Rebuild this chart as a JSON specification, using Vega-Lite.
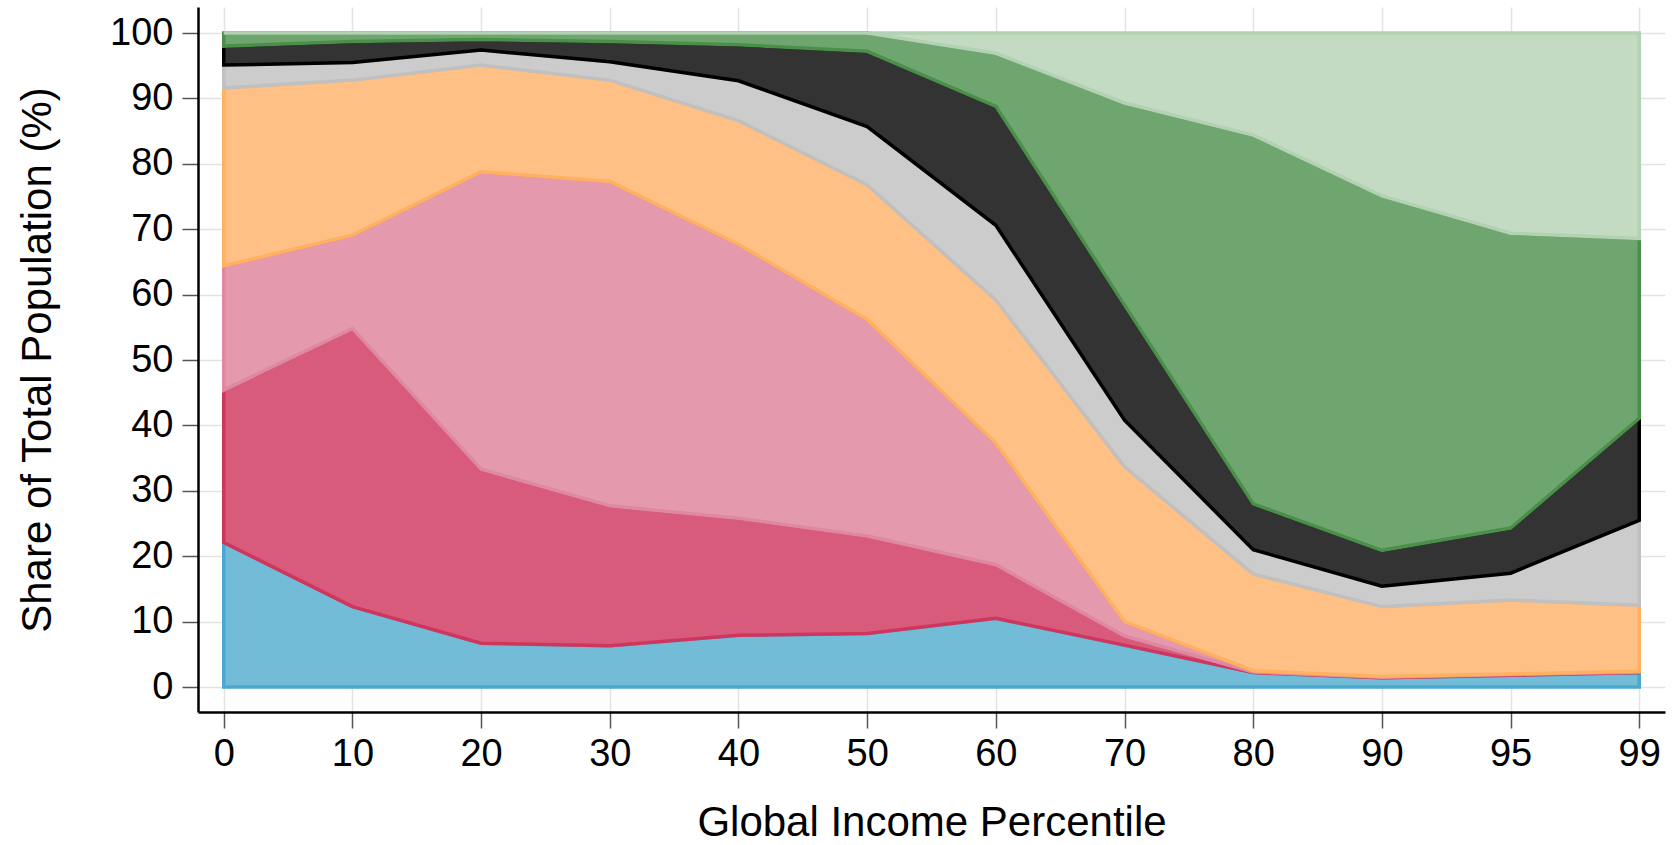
{
  "$schema": "https://vega.github.io/schema/vega-lite/v6.json",
  "width": 1467,
  "height": 705,
  "autosize": {"type": "none"},
  "padding": {"left": 198, "top": 7, "right": 13, "bottom": 133},
  "background": "white",
  "config": {
    "view": {"stroke": null},
    "font": "Liberation Sans"
  },
  "data": {
    "values": [
      {"p": 0, "g": "Group 1", "v": 22.1}, {"p": 0, "g": "Group 2", "v": 23.3}, {"p": 0, "g": "Group 3", "v": 19.0}, {"p": 0, "g": "Group 4", "v": 27.2}, {"p": 0, "g": "Group 5", "v": 3.5}, {"p": 0, "g": "Group 6", "v": 2.9}, {"p": 0, "g": "Group 7", "v": 2.0}, {"p": 0, "g": "Group 8", "v": 0},
      {"p": 10, "g": "Group 1", "v": 12.3}, {"p": 10, "g": "Group 2", "v": 42.5}, {"p": 10, "g": "Group 3", "v": 14.3}, {"p": 10, "g": "Group 4", "v": 23.7}, {"p": 10, "g": "Group 5", "v": 2.7}, {"p": 10, "g": "Group 6", "v": 3.2}, {"p": 10, "g": "Group 7", "v": 1.3}, {"p": 10, "g": "Group 8", "v": 0},
      {"p": 20, "g": "Group 1", "v": 6.7}, {"p": 20, "g": "Group 2", "v": 26.6}, {"p": 20, "g": "Group 3", "v": 45.5}, {"p": 20, "g": "Group 4", "v": 16.3}, {"p": 20, "g": "Group 5", "v": 2.3}, {"p": 20, "g": "Group 6", "v": 1.6}, {"p": 20, "g": "Group 7", "v": 1.0}, {"p": 20, "g": "Group 8", "v": 0},
      {"p": 30, "g": "Group 1", "v": 6.3}, {"p": 30, "g": "Group 2", "v": 21.4}, {"p": 30, "g": "Group 3", "v": 49.6}, {"p": 30, "g": "Group 4", "v": 15.5}, {"p": 30, "g": "Group 5", "v": 2.8}, {"p": 30, "g": "Group 6", "v": 3.1}, {"p": 30, "g": "Group 7", "v": 1.3}, {"p": 30, "g": "Group 8", "v": 0},
      {"p": 40, "g": "Group 1", "v": 7.9}, {"p": 40, "g": "Group 2", "v": 17.9}, {"p": 40, "g": "Group 3", "v": 41.9}, {"p": 40, "g": "Group 4", "v": 18.9}, {"p": 40, "g": "Group 5", "v": 6.1}, {"p": 40, "g": "Group 6", "v": 5.5}, {"p": 40, "g": "Group 7", "v": 1.8}, {"p": 40, "g": "Group 8", "v": 0},
      {"p": 50, "g": "Group 1", "v": 8.2}, {"p": 50, "g": "Group 2", "v": 14.9}, {"p": 50, "g": "Group 3", "v": 33.1}, {"p": 50, "g": "Group 4", "v": 20.6}, {"p": 50, "g": "Group 5", "v": 8.9}, {"p": 50, "g": "Group 6", "v": 11.5}, {"p": 50, "g": "Group 7", "v": 2.8}, {"p": 50, "g": "Group 8", "v": 0},
      {"p": 60, "g": "Group 1", "v": 10.5}, {"p": 60, "g": "Group 2", "v": 8.2}, {"p": 60, "g": "Group 3", "v": 18.6}, {"p": 60, "g": "Group 4", "v": 21.9}, {"p": 60, "g": "Group 5", "v": 11.4}, {"p": 60, "g": "Group 6", "v": 18.2}, {"p": 60, "g": "Group 7", "v": 8.1}, {"p": 60, "g": "Group 8", "v": 3.1},
      {"p": 70, "g": "Group 1", "v": 6.4}, {"p": 70, "g": "Group 2", "v": 1.4}, {"p": 70, "g": "Group 3", "v": 2.2}, {"p": 70, "g": "Group 4", "v": 23.7}, {"p": 70, "g": "Group 5", "v": 7.1}, {"p": 70, "g": "Group 6", "v": 17.6}, {"p": 70, "g": "Group 7", "v": 30.9}, {"p": 70, "g": "Group 8", "v": 10.7},
      {"p": 80, "g": "Group 1", "v": 2.2}, {"p": 80, "g": "Group 2", "v": 0.1}, {"p": 80, "g": "Group 3", "v": 0.2}, {"p": 80, "g": "Group 4", "v": 14.8}, {"p": 80, "g": "Group 5", "v": 3.7}, {"p": 80, "g": "Group 6", "v": 7.0}, {"p": 80, "g": "Group 7", "v": 56.4}, {"p": 80, "g": "Group 8", "v": 15.6},
      {"p": 90, "g": "Group 1", "v": 1.4}, {"p": 90, "g": "Group 2", "v": 0.1}, {"p": 90, "g": "Group 3", "v": 0.1}, {"p": 90, "g": "Group 4", "v": 10.7}, {"p": 90, "g": "Group 5", "v": 3.1}, {"p": 90, "g": "Group 6", "v": 5.5}, {"p": 90, "g": "Group 7", "v": 54.2}, {"p": 90, "g": "Group 8", "v": 24.9},
      {"p": 95, "g": "Group 1", "v": 1.8}, {"p": 95, "g": "Group 2", "v": 0.1}, {"p": 95, "g": "Group 3", "v": 0.1}, {"p": 95, "g": "Group 4", "v": 11.3}, {"p": 95, "g": "Group 5", "v": 4.1}, {"p": 95, "g": "Group 6", "v": 6.9}, {"p": 95, "g": "Group 7", "v": 45.1}, {"p": 95, "g": "Group 8", "v": 30.6},
      {"p": 99, "g": "Group 1", "v": 2.2}, {"p": 99, "g": "Group 2", "v": 0.1}, {"p": 99, "g": "Group 3", "v": 0.1}, {"p": 99, "g": "Group 4", "v": 10.1}, {"p": 99, "g": "Group 5", "v": 13.0}, {"p": 99, "g": "Group 6", "v": 15.6}, {"p": 99, "g": "Group 7", "v": 27.5}, {"p": 99, "g": "Group 8", "v": 31.4}
    ]
  },
  "mark": {"type": "area", "strokeWidth": 3.5, "strokeJoin": "miter", "interpolate": "linear"},
  "encoding": {
    "x": {
      "field": "p",
      "type": "ordinal",
      "sort": "ascending",
      "scale": {"type": "point", "padding": 0.2},
      "axis": {
        "title": "Global Income Percentile",
        "titleFont": "Liberation Sans",
        "titleFontSize": 42,
        "titleFontWeight": "normal",
        "titleColor": "#000000",
        "titlePadding": 29,
        "labelAngle": 0,
        "labelFont": "Liberation Sans",
        "labelFontSize": 38,
        "labelColor": "#000000",
        "labelPadding": 7,
        "tickSize": 16,
        "tickColor": "#555555",
        "tickWidth": 1.5,
        "domainColor": "#000000",
        "domainWidth": 2.5,
        "grid": true,
        "gridColor": "#e3e3e3",
        "gridWidth": 1.5
      }
    },
    "y": {
      "field": "v",
      "type": "quantitative",
      "stack": "zero",
      "scale": {"domain": [-3.82, 103.98], "nice": false, "zero": false},
      "axis": {
        "title": "Share of Total Population (%)",
        "titleFont": "Liberation Sans",
        "titleFontSize": 42,
        "titleFontWeight": "normal",
        "titleColor": "#000000",
        "titlePadding": 50,
        "values": [0, 10, 20, 30, 40, 50, 60, 70, 80, 90, 100],
        "labelFont": "Liberation Sans",
        "labelFontSize": 38,
        "labelColor": "#000000",
        "labelPadding": 9,
        "tickSize": 16,
        "tickColor": "#555555",
        "tickWidth": 1.5,
        "domainColor": "#000000",
        "domainWidth": 2.5,
        "grid": true,
        "gridColor": "#e3e3e3",
        "gridWidth": 1.5
      }
    },
    "fill": {
      "field": "g",
      "type": "nominal",
      "scale": {
        "domain": ["Group 1", "Group 2", "Group 3", "Group 4", "Group 5", "Group 6", "Group 7", "Group 8"],
        "range": ["#73bcd7", "#d95b7c", "#e599ad", "#ffc086", "#cccccc", "#333333", "#6fa66f", "#c2dbc2"]
      },
      "legend": null
    },
    "stroke": {
      "field": "g",
      "type": "nominal",
      "scale": {
        "domain": ["Group 1", "Group 2", "Group 3", "Group 4", "Group 5", "Group 6", "Group 7", "Group 8"],
        "range": ["#4aa9cf", "#d0355e", "#df88a1", "#ffb060", "#c0c0c0", "#000000", "#4a8f4a", "#b3d1b3"]
      },
      "legend": null
    },
    "fillOpacity": {"value": 1},
    "order": {"field": "g", "type": "nominal", "sort": "ascending"}
  }
}
